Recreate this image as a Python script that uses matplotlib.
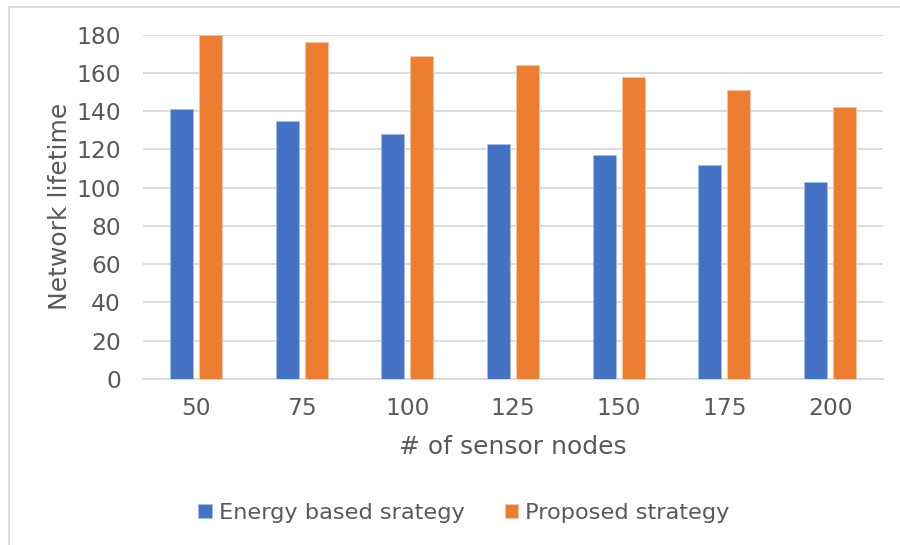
import matplotlib
matplotlib.use("Agg")
import matplotlib.pyplot as plt
from matplotlib.patches import Rectangle
import numpy as np

# network lifetime against number of sensor nodes, two strategies
nodes = ["50", "75", "100", "125", "150", "175", "200"]
energy_based = [141, 135, 128, 123, 117, 112, 103]
proposed = [180, 176, 169, 164, 158, 151, 142]
series_names = ["Energy based srategy", "Proposed strategy"]
yticks = [0, 20, 40, 60, 80, 100, 120, 140, 160, 180]

text_col = "#595959"
grid_col = "#D9D9D9"
blue = "#4472C4"
orange = "#ED7D31"

plt.rcParams["font.family"] = ["DejaVu Sans"]

fig = plt.figure(figsize=(9, 5.45), dpi=100)
ax = fig.add_axes([143 / 900, 1 - 379 / 545, 740 / 900, 344.5 / 545])

x = np.arange(len(nodes))
w = 0.218
off = 0.137
ax.bar(x - off, energy_based, w, color=blue, edgecolor="#A9BDE4", linewidth=0.6,
       label=series_names[0], zorder=3)
ax.bar(x + off, proposed, w, color=orange, edgecolor="#F7C6A3", linewidth=0.6,
       label=series_names[1], zorder=3)

ax.set_xlim(-0.5, len(nodes) - 0.5)
ax.set_ylim(0, 180)
ax.set_xticks(x)
ax.set_xticklabels(nodes)
ax.set_yticks(yticks)
ax.tick_params(axis="both", length=0, labelsize=16.8, colors=text_col)
ax.tick_params(axis="y", pad=16)
ax.tick_params(axis="x", pad=13)

ax.yaxis.grid(True, color=grid_col, linewidth=1.3, zorder=0)
ax.set_axisbelow(True)
for side in ["top", "right", "left"]:
    ax.spines[side].set_visible(False)
ax.spines["bottom"].set_color(grid_col)
ax.spines["bottom"].set_linewidth(1.3)

ax.set_ylabel("Network lifetime", fontsize=18, color=text_col, labelpad=3)
ax.set_xlabel("# of sensor nodes", fontsize=18, color=text_col, labelpad=10.5)

leg = fig.legend(loc="center", bbox_to_anchor=(464 / 900, 1 - 513 / 545), ncol=2,
                 frameon=False, fontsize=16.2, handlelength=0.6, handleheight=0.6,
                 handletextpad=0.3, columnspacing=1.8, labelcolor=text_col)

# chart frame
fig.patches.append(Rectangle((9 / 900, -0.1), 1.2, 1 - 7 / 545 + 0.1,
                             transform=fig.transFigure, fill=False,
                             edgecolor=grid_col, linewidth=1.3))

fig.savefig("out.png", dpi=100)
